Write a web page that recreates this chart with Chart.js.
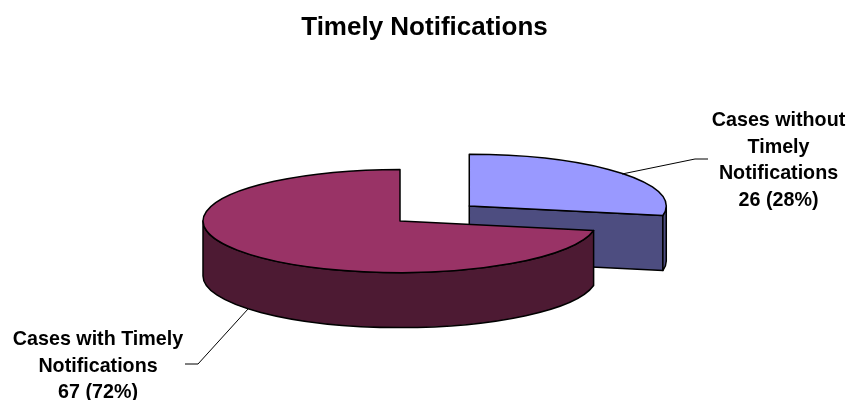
<!DOCTYPE html>
<html>
<head>
<meta charset="utf-8">
<title>Timely Notifications</title>
<script src="https://cdn.jsdelivr.net/npm/chart.js@4"></script>
<style>
    html, body { margin: 0; padding: 0; background: #fff; }
    canvas { display: block; }
</style>
</head>
<body>
<canvas id="notificationsChart" width="849" height="400"></canvas>
<script>
const categories = ['Cases without Timely Notifications', 'Cases with Timely Notifications'];
const caseCounts = [26, 67];
const labelLines = [['Cases without', 'Timely', 'Notifications'], ['Cases with Timely', 'Notifications']];
const topColors = ['#9999FF', '#993366'];
const sideColors = ['#4D4D80', '#4D1A33'];

const LABEL_FONT = 'bold 19.7px "Liberation Sans", Arial, sans-serif';
const LINE_HEIGHT = 26.5;
const TILT = 0.262;   // height/width of the pie ellipse
const DEPTH = 55;     // height of the pie wall
const PIE_SHIFT = -24.5;  // pie sits left of the centred title
const labelPlaces = [
    { x: 778.5, y: 121, leader: [[622, 174], [695, 159], [708, 159]] },
    { x: 98, y: 340, leader: [[248, 309], [198, 364], [185, 364]] }
];

function slicePath(arc) {
    const mid = (arc.startAngle + arc.endAngle) / 2;
    const shift = (arc.options.offset || 0) / 2;
    const cx = arc.x + PIE_SHIFT + Math.cos(mid) * shift;
    const cy = arc.y + Math.sin(mid) * shift * TILT;
    return { cx, cy, rx: arc.outerRadius, ry: arc.outerRadius * TILT };
}

function paint(ctx, fill) {
    ctx.fillStyle = fill;
    ctx.fill();
    ctx.stroke();
}

// Draws the arcs of the doughnut controller as a tilted pie with a wall
const pie3d = {
    id: 'pie3d',
    beforeDatasetDraw(chart) {
        const ctx = chart.ctx;
        const arcs = chart.getDatasetMeta(0).data;
        ctx.save();
        ctx.strokeStyle = '#000';
        ctx.lineWidth = 1.5;
        ctx.lineJoin = 'round';
        arcs.forEach(function (arc, i) {
            const { cx, cy, rx, ry } = slicePath(arc);
            const a0 = arc.startAngle;
            const a1 = arc.endAngle;

            // flat side of the slice, only when it faces the viewer
            if (Math.cos(a1) > 0.001) {
                ctx.beginPath();
                ctx.moveTo(cx, cy);
                ctx.lineTo(cx + rx * Math.cos(a1), cy + ry * Math.sin(a1));
                ctx.lineTo(cx + rx * Math.cos(a1), cy + ry * Math.sin(a1) + DEPTH);
                ctx.lineTo(cx, cy + DEPTH);
                ctx.closePath();
                paint(ctx, sideColors[i]);
            }

            // round wall, front half only
            const w0 = Math.max(a0, 0);
            const w1 = Math.min(a1, Math.PI);
            if (w1 > w0) {
                ctx.beginPath();
                ctx.ellipse(cx, cy, rx, ry, 0, w0, w1);
                ctx.ellipse(cx, cy + DEPTH, rx, ry, 0, w1, w0, true);
                ctx.closePath();
                paint(ctx, sideColors[i]);
            }

            // top face
            ctx.beginPath();
            ctx.moveTo(cx, cy);
            ctx.ellipse(cx, cy, rx, ry, 0, a0, a1);
            ctx.closePath();
            paint(ctx, arc.options.backgroundColor);
        });
        ctx.restore();
        return false;
    },
    afterDraw(chart) {
        const ctx = chart.ctx;
        const total = caseCounts.reduce(function (a, b) { return a + b; }, 0);
        ctx.save();
        ctx.font = LABEL_FONT;
        ctx.textAlign = 'center';
        ctx.textBaseline = 'middle';
        ctx.fillStyle = '#000';
        labelPlaces.forEach(function (place, i) {
            ctx.strokeStyle = '#000';
            ctx.lineWidth = 1;
            ctx.beginPath();
            place.leader.forEach(function (p, j) {
                if (j === 0) ctx.moveTo(p[0], p[1]);
                else ctx.lineTo(p[0], p[1]);
            });
            ctx.stroke();

            const pct = Math.round(caseCounts[i] / total * 100);
            const lines = labelLines[i].concat(caseCounts[i] + ' (' + pct + '%)');
            lines.forEach(function (line, j) {
                ctx.fillText(line, place.x, place.y + j * LINE_HEIGHT);
            });
        });
        ctx.restore();
    }
};

const ctxNotifications = document.getElementById('notificationsChart').getContext('2d');
new Chart(ctxNotifications, {
    type: 'pie',
    data: {
        labels: categories,
        datasets: [{
            data: caseCounts,
            backgroundColor: topColors,
            borderWidth: 0,
            offset: [180, 0]
        }]
    },
    options: {
        responsive: false,
        animation: false,
        radius: 197,
        plugins: {
            legend: { display: false },
            tooltip: { enabled: false },
            title: {
                display: true,
                text: 'Timely Notifications',
                color: '#000',
                font: { family: '"Liberation Sans", Arial, sans-serif', size: 26, weight: 'bold', lineHeight: 1.2 },
                padding: { top: 12.4, bottom: -1.6 }
            }
        }
    },
    plugins: [pie3d]
});
</script>
</body>
</html>
